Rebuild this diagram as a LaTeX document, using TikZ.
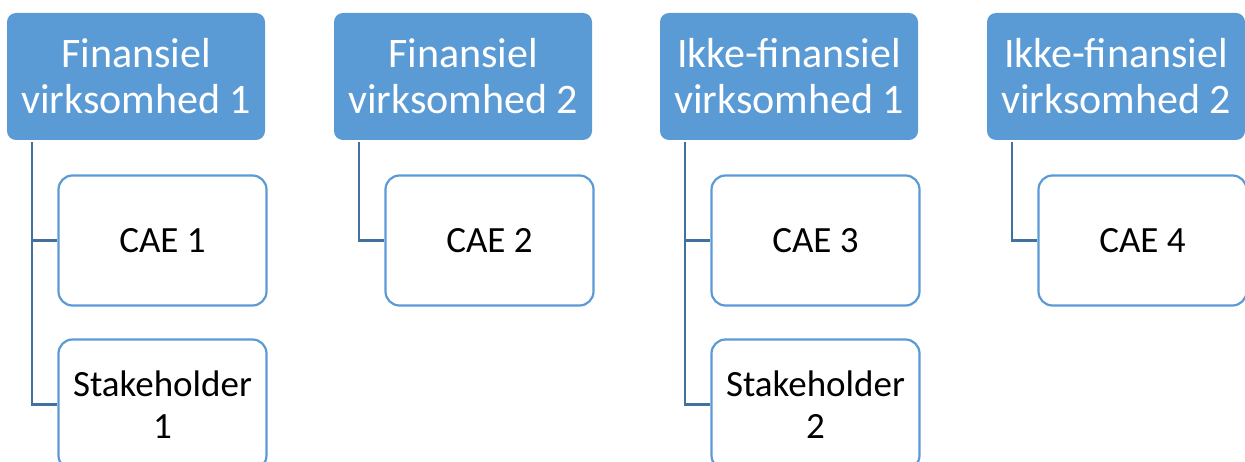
\documentclass[tikz,border=0pt]{standalone}
\usepackage{fontspec}
\setmainfont{Carlito}
\definecolor{hdrblue}{HTML}{5B9BD5}
\definecolor{linkblue}{HTML}{41719C}
\begin{document}
\begin{tikzpicture}[x=1pt,y=-1pt,
  header/.style={fill=hdrblue,draw=none,rounded corners=9pt,minimum width=258pt,
    minimum height=127pt,inner sep=0pt,align=center,text=white,
    font=\fontsize{42}{46}\selectfont},
  child/.style={fill=white,draw=hdrblue,line width=2.2pt,rounded corners=14pt,
    minimum width=208pt,minimum height=130pt,inner sep=0pt,align=center,text=black,
    font=\fontsize{37}{42}\selectfont},
  link/.style={draw=linkblue,line width=2.6pt}]
\useasboundingbox (0,0) rectangle (1245,462);

% top-level units
\node[header] (h1) at (136,76.5) {Finansiel\\virksomhed 1};
\node[header] (h2) at (463,76.5) {Finansiel\\virksomhed 2};
\node[header] (h3) at (789,76.5) {Ikke-finansiel\\virksomhed 1};
\node[header] (h4) at (1116,76.5) {Ikke-finansiel\\virksomhed 2};

% subordinate boxes
\node[child] (c1) at (162.5,240.5) {CAE 1};
\node[child] (s1) at (162.5,404.5) {Stakeholder\\1};
\node[child] (c2) at (489.5,240.5) {CAE 2};
\node[child] (c3) at (815.5,240.5) {CAE 3};
\node[child] (s2) at (815.5,404.5) {Stakeholder\\2};
\node[child] (c4) at (1142.5,240.5) {CAE 4};

% connectors
\draw[link] ([xshift=25pt,yshift=-2pt]h1.south west) |- (s1.west);
\draw[link] ([xshift=25pt]h1.south west |- c1.west) -- (c1.west);
\draw[link] ([xshift=25pt,yshift=-2pt]h2.south west) |- (c2.west);
\draw[link] ([xshift=25pt,yshift=-2pt]h3.south west) |- (s2.west);
\draw[link] ([xshift=25pt]h3.south west |- c3.west) -- (c3.west);
\draw[link] ([xshift=25pt,yshift=-2pt]h4.south west) |- (c4.west);
\end{tikzpicture}
\end{document}
